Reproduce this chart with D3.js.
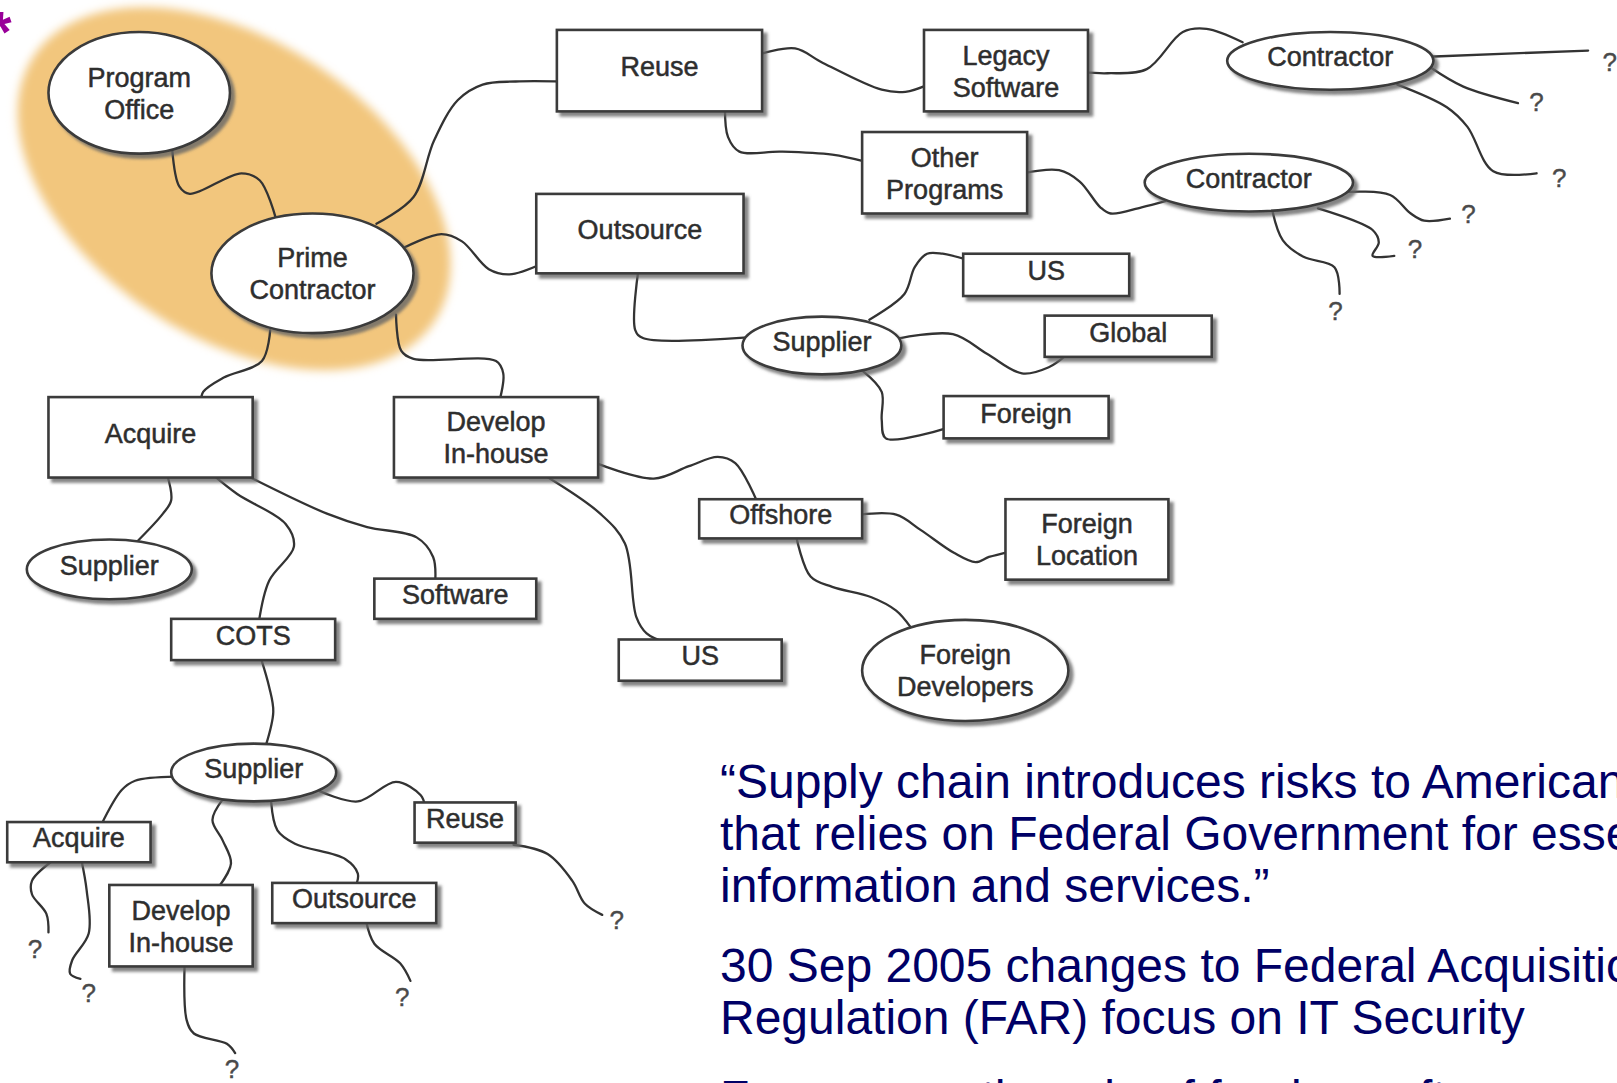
<!DOCTYPE html>
<html>
<head>
<meta charset="utf-8">
<title>Supply chain map</title>
<style>
  html, body { margin: 0; padding: 0; background: #fff; }
  svg { display: block; }
</style>
<script src="https://cdn.jsdelivr.net/npm/d3@7"></script>
</head>
<body>
<script>

// all geometry below is in reference units (the 1568x1050 picture)
var rectNodes = [
    ["reuse",       ["Reuse"],               540,  29, 739, 108],
    ["legacy",      ["Legacy", "Software"],  896,  29, 1055, 108],
    ["otherProg",   ["Other", "Programs"],   836, 128, 996, 207],
    ["outsource",   ["Outsource"],           520, 188, 721, 265],
    ["usTop",       ["US"],                  934, 246, 1095, 287],
    ["global",      ["Global"],             1013, 306, 1175, 346],
    ["foreign",     ["Foreign"],             915, 384, 1075, 425],
    ["acquire",     ["Acquire"],              47, 385, 245, 463],
    ["develop",     ["Develop", "In-house"], 382, 385, 580, 463],
    ["software",    ["Software"],            363, 561, 520, 600],
    ["cots",        ["COTS"],                166, 600, 325, 640],
    ["offshore",    ["Offshore"],            678, 484, 836, 522],
    ["foreignLoc",  ["Foreign", "Location"], 975, 484, 1133, 562],
    ["usBot",       ["US"],                  600, 620, 758, 660],
    ["acquire2",    ["Acquire"],               7, 797, 146, 836],
    ["reuse2",      ["Reuse"],               402, 778, 500, 817],
    ["develop2",    ["Develop", "In-house"], 106, 858, 245, 937],
    ["outsource2",  ["Outsource"],           264, 856, 423, 895]
]

var ellipseNodes = [
    ["programOffice", ["Program", "Office"],    135,  90,  88, 59],
    ["prime",         ["Prime", "Contractor"],  303, 265,  98, 58],
    ["contractorA",   ["Contractor"],          1290,  59, 100, 28],
    ["contractorB",   ["Contractor"],          1211, 177, 101, 28],
    ["supplierMid",   ["Supplier"],             797, 335,  77, 28],
    ["supplierLeft",  ["Supplier"],             106, 552,  80, 29],
    ["foreignDev",    ["Foreign", "Developers"], 936, 650, 100, 49],
    ["supplierBot",   ["Supplier"],             246, 749,  80, 28]
]

var questionMarks = [
    ["q1", 1561, 60], ["q2", 1490, 99], ["q3", 1512, 172],
    ["q4", 1424, 207], ["q5", 1372, 241], ["q6", 1295, 301],
    ["q7", 598, 892], ["q8", 34, 920], ["q9", 86, 963],
    ["q10", 225, 1036], ["q11", 390, 967]
]

var links = [
    ["programOffice", "prime", [[167,145],[174,181],[184,188],[234,168],[252,175],[267,210]]],
    ["prime", "reuse", [[365,217],[401,191],[421,136],[444,97],[468,82],[500,79],[545,79]]],
    ["prime", "outsource", [[392,240],[428,227],[448,234],[474,261],[494,266],[525,256]]],
    ["prime", "acquire", [[262,320],[254,350],[217,366],[197,380],[195,390]]],
    ["prime", "develop", [[384,305],[389,340],[401,348],[481,350],[488,362],[484,390]]],
    ["reuse", "legacy", [[735,53],[771,47],[798,61],[855,87],[878,89],[900,82]]],
    ["reuse", "otherProg", [[703,105],[706,133],[717,147],[757,147],[807,150],[840,157]]],
    ["legacy", "contractorA", [[1050,70],[1074,71],[1112,67],[1147,31],[1170,28],[1205,41]]],
    ["otherProg", "contractorB", [[992,168],[1027,165],[1047,176],[1067,201],[1077,207],[1107,201],[1130,195]]],
    ["contractorA", "q1", [[1385,55],[1540,49]]],
    ["contractorA", "q2", [[1388,66],[1419,84],[1472,100]]],
    ["contractorA", "q3", [[1355,82],[1403,104],[1423,123],[1448,166],[1490,168]]],
    ["contractorB", "q4", [[1308,186],[1348,189],[1368,207],[1381,214],[1406,212]]],
    ["contractorB", "q5", [[1278,202],[1331,223],[1337,235],[1331,248],[1352,248]]],
    ["contractorB", "q6", [[1234,205],[1244,233],[1264,249],[1294,259],[1299,285]]],
    ["outsource", "supplierMid", [[619,262],[616,320],[624,328],[725,327]]],
    ["supplierMid", "usTop", [[843,310],[877,285],[887,259],[899,246],[914,246],[938,252]]],
    ["supplierMid", "global", [[872,328],[924,324],[957,343],[991,362],[1017,356],[1033,345]]],
    ["supplierMid", "foreign", [[837,360],[855,380],[855,407],[859,425],[918,415]]],
    ["acquire", "supplierLeft", [[162,460],[166,485],[158,498],[133,525]]],
    ["acquire", "cots", [[206,460],[230,479],[277,508],[285,530],[261,563],[251,603]]],
    ["acquire", "software", [[241,462],[317,498],[356,511],[404,521],[420,540],[422,565]]],
    ["develop", "usBot", [[530,462],[582,498],[606,527],[617,598],[627,614],[646,623]]],
    ["develop", "offshore", [[578,449],[634,464],[668,452],[696,443],[713,449],[734,486]]],
    ["offshore", "foreignLoc", [[834,499],[869,499],[893,514],[925,536],[946,545],[959,540],[979,535]]],
    ["offshore", "foreignDev", [[772,520],[786,559],[807,569],[845,579],[869,592],[883,608]]],
    ["cots", "supplierBot", [[253,638],[261,666],[265,690],[258,722]]],
    ["supplierBot", "acquire2", [[170,753],[131,757],[118,766],[98,800]]],
    ["supplierBot", "develop2", [[216,775],[206,795],[216,815],[224,837],[212,860]]],
    ["supplierBot", "outsource2", [[263,778],[269,805],[286,818],[335,833],[347,847],[345,859]]],
    ["supplierBot", "reuse2", [[310,767],[347,777],[384,758],[408,771],[412,781]]],
    ["reuse2", "q7", [[498,819],[531,828],[555,854],[567,876],[584,887]]],
    ["acquire2", "q8", [[49,836],[31,854],[31,867],[45,886],[47,904]]],
    ["acquire2", "q9", [[79,834],[84,863],[86,905],[70,931],[68,944],[78,949]]],
    ["develop2", "q10", [[179,935],[181,989],[188,1002],[220,1012],[228,1021]]],
    ["outsource2", "q11", [[355,893],[363,915],[388,934],[398,951]]]
]

// highlighted group (Program Office + Prime Contractor): cx, cy, a, b, angle
var highlight = [227, 183, 233, 144, 33.5]

var quoteParas = [
    ["\u201cSupply chain introduces risks to American society",
     "that relies on Federal Government for essential",
     "information and services.\u201d"],
    ["30 Sep 2005 changes to Federal Acquisition",
     "Regulation (FAR) focus on IT Security"],
    ["Focuses on the role of foreign software suppliers"]
]

var width = 1617,
    height = 1083

var x = d3.scaleLinear().domain([0, 1568]).range([0, width])
var y = d3.scaleLinear().domain([0, 1050]).range([0, height])
var k = width / 1568

var svg = d3.select('body').append('svg')
    .attr('width', width)
    .attr('height', height)
    .style('background', '#fff')

var defs = svg.append('defs')

var shadow = defs.append('filter').attr('id', 'shadow')
    .attr('x', '-10%').attr('y', '-10%').attr('width', '130%').attr('height', '140%')
shadow.append('feGaussianBlur').attr('in', 'SourceAlpha').attr('stdDeviation', 1.6).attr('result', 'b')
shadow.append('feOffset').attr('in', 'b').attr('dx', 4).attr('dy', 4).attr('result', 'o')
shadow.append('feFlood').attr('flood-color', '#666').attr('flood-opacity', 0.8)
shadow.append('feComposite').attr('in2', 'o').attr('operator', 'in').attr('result', 's')
var merge = shadow.append('feMerge')
merge.append('feMergeNode').attr('in', 's')
merge.append('feMergeNode').attr('in', 'SourceGraphic')

defs.append('filter').attr('id', 'soft')
    .attr('x', '-20%').attr('y', '-20%').attr('width', '140%').attr('height', '140%')
    .append('feGaussianBlur').attr('stdDeviation', 5)

// orange highlight
svg.append('ellipse')
    .attr('cx', x(highlight[0]))
    .attr('cy', y(highlight[1]))
    .attr('rx', highlight[2] * k)
    .attr('ry', highlight[3] * k)
    .attr('transform', 'rotate(' + highlight[4] + ',' + x(highlight[0]) + ',' + y(highlight[1]) + ')')
    .attr('fill', '#f2c67d')
    .attr('filter', 'url(#soft)')

// asterisk in the corner
svg.append('text')
    .attr('x', -11)
    .attr('y', 52)
    .attr('font-family', 'Liberation Sans, Arial, sans-serif')
    .attr('font-weight', 'bold')
    .attr('font-size', 58)
    .attr('fill', '#990099')
    .text('*')

var line = d3.line()
    .x(function (d) { return x(d[0]) })
    .y(function (d) { return y(d[1]) })
    .curve(d3.curveCatmullRom.alpha(0.5))

svg.append('g').selectAll('path')
    .data(links)
    .enter().append('path')
    .attr('d', function (d) { return line(d[2]) })
    .attr('fill', 'none')
    .attr('stroke', '#333')
    .attr('stroke-width', 2.3)
    .attr('stroke-linecap', 'round')

svg.append('g').selectAll('text')
    .data(questionMarks)
    .enter().append('text')
    .attr('x', function (d) { return x(d[1]) })
    .attr('y', function (d) { return y(d[2]) })
    .attr('dy', '0.35em')
    .attr('text-anchor', 'middle')
    .attr('font-family', 'Liberation Sans, Arial, sans-serif')
    .attr('font-size', 26)
    .attr('fill', '#4a4a4a')
    .attr('stroke', '#4a4a4a')
    .attr('stroke-width', 0.4)
    .text('?')

var rects = svg.append('g').selectAll('g')
    .data(rectNodes)
    .enter().append('g')

rects.append('rect')
    .attr('x', function (d) { return x(d[2]) })
    .attr('y', function (d) { return y(d[3]) })
    .attr('width', function (d) { return x(d[4]) - x(d[2]) })
    .attr('height', function (d) { return y(d[5]) - y(d[3]) })
    .attr('fill', '#fff')
    .attr('stroke', '#3a3a3a')
    .attr('stroke-width', 2.6)
    .attr('filter', 'url(#shadow)')

var ellipses = svg.append('g').selectAll('g')
    .data(ellipseNodes)
    .enter().append('g')

ellipses.append('ellipse')
    .attr('cx', function (d) { return x(d[2]) })
    .attr('cy', function (d) { return y(d[3]) })
    .attr('rx', function (d) { return d[4] * k })
    .attr('ry', function (d) { return d[5] * k })
    .attr('fill', '#fff')
    .attr('stroke', '#3a3a3a')
    .attr('stroke-width', 2.6)
    .attr('filter', 'url(#shadow)')

function addLabel(g, cx, cy) {
    g.each(function (d) {
        var lines = d[1]
        var offs = lines.length == 1 ? [-4] : [-15, 16]
        var t = d3.select(this)
        lines.forEach(function (s, i) {
            t.append('text')
                .attr('x', x(cx(d)))
                .attr('y', y(cy(d) + offs[i]))
                .attr('dy', '0.35em')
                .attr('text-anchor', 'middle')
                .attr('font-family', 'Liberation Sans, Arial, sans-serif')
                .attr('font-size', 27)
                .attr('fill', '#2e2e2e')
                .attr('stroke', '#2e2e2e')
                .attr('stroke-width', 0.5)
                .text(s)
        })
    })
}

addLabel(rects, function (d) { return (d[2] + d[4]) / 2 }, function (d) { return (d[3] + d[5]) / 2 })
addLabel(ellipses, function (d) { return d[2] }, function (d) { return d[3] })

// quote text on the lower right
var quote = svg.append('g')
    .attr('font-family', 'Liberation Sans, Arial, sans-serif')
    .attr('font-size', 48)
    .attr('fill', '#000066')

var baseline = 798
quoteParas.forEach(function (para) {
    para.forEach(function (s) {
        quote.append('text')
            .attr('x', 720)
            .attr('y', baseline)
            .text(s)
        baseline += 52
    })
    baseline += 28
})

</script>
</body>
</html>
